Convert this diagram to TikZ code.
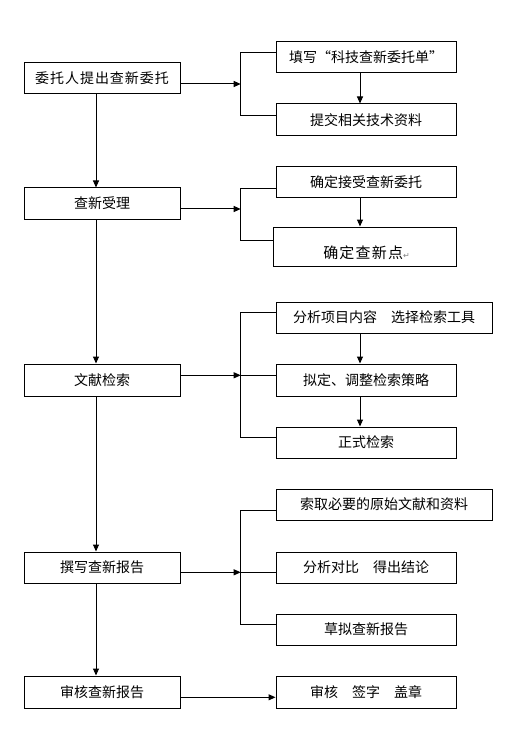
\documentclass[tikz,border=0pt]{standalone}
\usepackage{fontspec}
\setmainfont{Noto Sans CJK SC}
\newfontfamily\dvfont{DejaVu Sans}
\usetikzlibrary{arrows.meta,calc}
\begin{document}
\begin{tikzpicture}[x=1pt,y=-1pt,
  box/.style={draw,line width=1pt,inner sep=0pt,font=\fontsize{14}{16}\selectfont},
  lw/.style={minimum width=156pt},
  rw/.style={minimum width=180pt},
  ww/.style={minimum width=216pt},
  arr/.style={line width=1pt,-{Triangle[length=7pt,width=6pt]}},
  ln/.style={line width=1pt}]
\useasboundingbox (0,0) rectangle (512,735);
% left column
\node[box,lw,minimum height=31pt] (L1) at (102,78.5) {\addfontfeature{LetterSpace=7}委托人提出查新委托};
\node[box,lw,minimum height=31pt] (L2) at (102,203.5) {查新受理};
\node[box,lw,minimum height=32pt] (L3) at (102,380) {文献检索};
\node[box,lw,minimum height=31pt] (L4) at (102,567.5) {撰写查新报告};
\node[box,lw,minimum height=32pt] (L5) at (102,692) {审核查新报告};
% right column
\node[box,rw,minimum height=31pt] (R1a) at (366,57.5) {填写“科技查新委托单”};
\node[box,rw,minimum height=32pt] (R1b) at (366,120) {提交相关技术资料};
\node[box,rw,minimum height=31pt] (R2a) at (366,182.5) {确定接受查新委托};
\node[box,minimum width=183pt,minimum height=39pt] (R2b) at (364.5,246.5) {};
\node[inner sep=0pt,font=\fontsize{15}{17}\selectfont] (R2bt) at ($(R2b.center)+(2,6)$) {\addfontfeature{LetterSpace=8}确定查新点{\dvfont\color{gray}\fontsize{8}{8}\selectfont ↵}};
\node[box,ww,minimum height=31pt] (R3a) at (384,317.5) {分析项目内容　选择检索工具};
\node[box,rw,minimum height=32pt] (R3b) at (366,380) {拟定、调整检索策略};
\node[box,rw,minimum height=31pt] (R3c) at (366,442.5) {正式检索};
\node[box,ww,minimum height=31pt] (R4a) at (384,504.5) {索取必要的原始文献和资料};
\node[box,rw,minimum height=31pt] (R4b) at (366,567.5) {分析对比　得出结论};
\node[box,rw,minimum height=31pt] (R4c) at (366,629.5) {草拟查新报告};
\node[box,rw,minimum height=32pt] (R5) at (366,692) {审核　签字　盖章};
% bracket junctions
\coordinate (b1) at (240.7,84);
\coordinate (b2) at (240.7,209);
\coordinate (b3) at (240.7,375.3);
\coordinate (b4) at (240.7,572.3);
% main vertical arrows
\draw[arr] ($(L1.south)+(-6,0)$) -- ($(L2.north)+(-6,0)$);
\draw[arr] ($(L2.south)+(-6,0)$) -- ($(L3.north)+(-6,0)$);
\draw[arr] ($(L3.south)+(-6,0)$) -- ($(L4.north)+(-6,0)$);
\draw[arr] ($(L4.south)+(-6,0)$) -- ($(L5.north)+(-6,0)$);
% horizontal arrows to brackets
\draw[arr] (L1.east |- b1) -- (b1);
\draw[arr] (L2.east |- b2) -- (b2);
\draw[arr] (L3.east |- b3) -- (b3);
\draw[arr] (L4.east |- b4) -- (b4);
\coordinate (s5) at ($(L5.east)+(0,5.3)$);
\draw[arr] (s5) -- (s5 -| R5.west);
% brackets
\draw[ln] ($(R1a.west)+(0,-5.2)$) -| (b1) |- ($(R1b.west)+(0,-4.7)$);
\draw[ln] ($(R2a.west)+(0,6.5)$) -| (b2) |- ($(R2b.west)+(0,-6.2)$);
\draw[ln] ($(R3a.west)+(0,-5.2)$) -| (b3) |- ($(R3c.west)+(0,-5.5)$);
\draw[ln] (b3) -- (b3 -| R3b.west);
\draw[ln] ($(R4a.west)+(0,6.2)$) -| (b4) |- ($(R4c.west)+(0,-5.5)$);
\draw[ln] (b4) -- (b4 -| R4b.west);
% right vertical arrows
\coordinate (t1) at ($(R1a.south)+(-6,0)$);
\draw[arr] (t1) -- (t1 |- R1b.north);
\coordinate (t2) at ($(R2a.south)+(-6,0)$);
\draw[arr] (t2) -- (t2 |- R2b.north);
\coordinate (t3) at ($(R3a.south)+(-24,0)$);
\draw[arr] (t3) -- (t3 |- R3b.north);
\coordinate (t4) at ($(R3b.south)+(-6,0)$);
\draw[arr] (t4) -- (t4 |- R3c.north);
\end{tikzpicture}
\end{document}
